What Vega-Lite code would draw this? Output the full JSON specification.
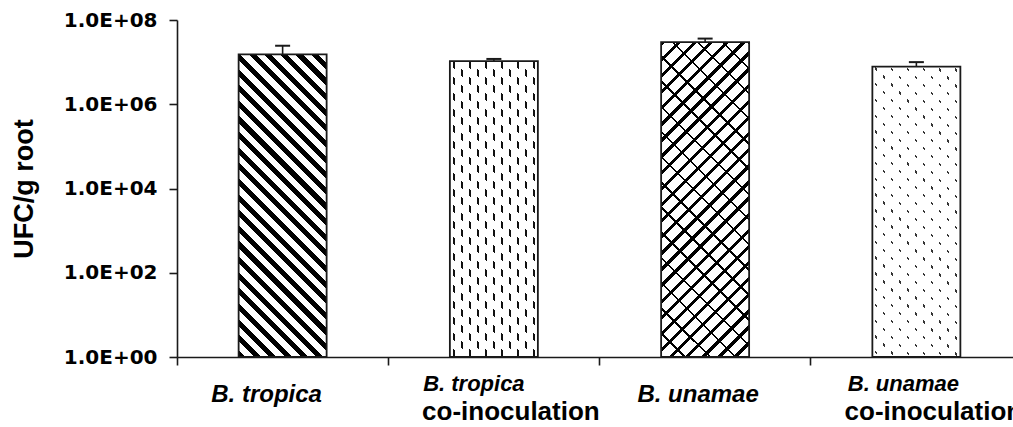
{
  "$schema": "https://vega.github.io/schema/vega-lite/v6.json",
  "width": 836,
  "height": 337,
  "autosize": "none",
  "padding": {"left": 177, "top": 20, "right": 0, "bottom": 70},
  "background": "white",
  "config": {"view": {"stroke": null}, "axis": {"grid": false}},
  "data": {"values": [
    {"cat": "B. tropica", "value": 15300000, "upper": 24500000},
    {"cat": "B. tropica co-inoculation", "value": 10600000, "upper": 11900000},
    {"cat": "B. unamae", "value": 30000000, "upper": 36200000},
    {"cat": "B. unamae co-inoculation", "value": 7800000, "upper": 10000000}
  ]},
  "encoding": {
    "x": {"field": "cat", "type": "nominal", "sort": null,
      "scale": {"domain": ["B. tropica", "B. tropica co-inoculation", "B. unamae", "B. unamae co-inoculation"], "paddingInner": 0, "paddingOuter": 0, "range": [0, 845]},
      "axis": null},
    "y": {"field": "value", "type": "quantitative", "scale": {"type": "log", "domain": [1, 100000000], "nice": false},
      "axis": {"orient": "left", "values": [1, 100, 10000, 1000000, 100000000],
        "labelExpr": "datum.value > 50000000 ? '1.0E+08' : datum.value > 500000 ? '1.0E+06' : datum.value > 5000 ? '1.0E+04' : datum.value > 50 ? '1.0E+02' : '1.0E+00'",
        "title": "UFC/g root", "titleFont": "Liberation Sans", "titleFontSize": 27, "titleFontWeight": "bold", "titleColor": "#000", "titlePadding": 25,
        "labelFont": "DejaVu Sans", "labelFontWeight": "bold", "labelFontSize": 20, "labelColor": "#000", "labelPadding": 12,
        "tickSize": 8, "tickColor": "#1a1a1a", "tickWidth": 1.6, "domainColor": "#1a1a1a", "domainWidth": 1.6, "grid": false}}
  },
  "layer": [
    {"transform": [{"filter": "datum.cat === 'B. tropica'"}],
     "mark": {"type": "bar", "width": 88, "fill": {"gradient": "linear", "x1": 0, "y1": 1, "x2": 0.346, "y2": -0.19, "stops": [
      {"offset": 0, "color": "#000"}, {"offset": 0.018, "color": "#000"}, {"offset": 0.018, "color": "#fff"}, {"offset": 0.04, "color": "#fff"},
      {"offset": 0.04, "color": "#000"}, {"offset": 0.058, "color": "#000"}, {"offset": 0.058, "color": "#fff"}, {"offset": 0.08, "color": "#fff"},
      {"offset": 0.08, "color": "#000"}, {"offset": 0.098, "color": "#000"}, {"offset": 0.098, "color": "#fff"}, {"offset": 0.12, "color": "#fff"},
      {"offset": 0.12, "color": "#000"}, {"offset": 0.138, "color": "#000"}, {"offset": 0.138, "color": "#fff"}, {"offset": 0.16, "color": "#fff"},
      {"offset": 0.16, "color": "#000"}, {"offset": 0.178, "color": "#000"}, {"offset": 0.178, "color": "#fff"}, {"offset": 0.2, "color": "#fff"},
      {"offset": 0.2, "color": "#000"}, {"offset": 0.218, "color": "#000"}, {"offset": 0.218, "color": "#fff"}, {"offset": 0.24, "color": "#fff"},
      {"offset": 0.24, "color": "#000"}, {"offset": 0.258, "color": "#000"}, {"offset": 0.258, "color": "#fff"}, {"offset": 0.28, "color": "#fff"},
      {"offset": 0.28, "color": "#000"}, {"offset": 0.298, "color": "#000"}, {"offset": 0.298, "color": "#fff"}, {"offset": 0.32, "color": "#fff"},
      {"offset": 0.32, "color": "#000"}, {"offset": 0.338, "color": "#000"}, {"offset": 0.338, "color": "#fff"}, {"offset": 0.36, "color": "#fff"},
      {"offset": 0.36, "color": "#000"}, {"offset": 0.378, "color": "#000"}, {"offset": 0.378, "color": "#fff"}, {"offset": 0.4, "color": "#fff"},
      {"offset": 0.4, "color": "#000"}, {"offset": 0.418, "color": "#000"}, {"offset": 0.418, "color": "#fff"}, {"offset": 0.44, "color": "#fff"},
      {"offset": 0.44, "color": "#000"}, {"offset": 0.458, "color": "#000"}, {"offset": 0.458, "color": "#fff"}, {"offset": 0.48, "color": "#fff"},
      {"offset": 0.48, "color": "#000"}, {"offset": 0.498, "color": "#000"}, {"offset": 0.498, "color": "#fff"}, {"offset": 0.52, "color": "#fff"},
      {"offset": 0.52, "color": "#000"}, {"offset": 0.538, "color": "#000"}, {"offset": 0.538, "color": "#fff"}, {"offset": 0.56, "color": "#fff"},
      {"offset": 0.56, "color": "#000"}, {"offset": 0.578, "color": "#000"}, {"offset": 0.578, "color": "#fff"}, {"offset": 0.6, "color": "#fff"},
      {"offset": 0.6, "color": "#000"}, {"offset": 0.618, "color": "#000"}, {"offset": 0.618, "color": "#fff"}, {"offset": 0.64, "color": "#fff"},
      {"offset": 0.64, "color": "#000"}, {"offset": 0.658, "color": "#000"}, {"offset": 0.658, "color": "#fff"}, {"offset": 0.68, "color": "#fff"},
      {"offset": 0.68, "color": "#000"}, {"offset": 0.698, "color": "#000"}, {"offset": 0.698, "color": "#fff"}, {"offset": 0.72, "color": "#fff"},
      {"offset": 0.72, "color": "#000"}, {"offset": 0.738, "color": "#000"}, {"offset": 0.738, "color": "#fff"}, {"offset": 0.76, "color": "#fff"},
      {"offset": 0.76, "color": "#000"}, {"offset": 0.778, "color": "#000"}, {"offset": 0.778, "color": "#fff"}, {"offset": 0.8, "color": "#fff"},
      {"offset": 0.8, "color": "#000"}, {"offset": 0.818, "color": "#000"}, {"offset": 0.818, "color": "#fff"}, {"offset": 0.84, "color": "#fff"},
      {"offset": 0.84, "color": "#000"}, {"offset": 0.858, "color": "#000"}, {"offset": 0.858, "color": "#fff"}, {"offset": 0.88, "color": "#fff"},
      {"offset": 0.88, "color": "#000"}, {"offset": 0.898, "color": "#000"}, {"offset": 0.898, "color": "#fff"}, {"offset": 0.92, "color": "#fff"},
      {"offset": 0.92, "color": "#000"}, {"offset": 0.938, "color": "#000"}, {"offset": 0.938, "color": "#fff"}, {"offset": 0.96, "color": "#fff"},
      {"offset": 0.96, "color": "#000"}, {"offset": 0.978, "color": "#000"}, {"offset": 0.978, "color": "#fff"}, {"offset": 1, "color": "#fff"}
     ]}},
     "encoding": {"y2": {"datum": 1},
       "x": {"field": "cat", "type": "nominal", "sort": null,
         "scale": {"domain": ["B. tropica", "B. tropica co-inoculation", "B. unamae", "B. unamae co-inoculation"], "paddingInner": 0, "paddingOuter": 0, "range": [0, 845]},
         "axis": {"orient": "bottom", "title": null, "domain": false, "ticks": false,
           "labelExpr": "datum.value === 'B. tropica' ? datum.label : ''",
           "labelFont": "Liberation Sans", "labelFontWeight": "bold", "labelFontStyle": "italic", "labelFontSize": 24, "labelColor": "#000",
           "labelBaseline": "alphabetic", "labelPadding": 44, "labelOffset": -16, "labelAngle": 0, "labelAlign": "center",
           "labelOverlap": false, "labelBound": false, "labelFlush": false, "labelLimit": 0}}}},

    {"transform": [{"filter": "datum.cat === 'B. tropica co-inoculation'"}],
     "mark": {"type": "bar", "width": 88, "fill": "#111"},
     "encoding": {"y2": {"datum": 1},
       "x": {"field": "cat", "type": "nominal", "sort": null,
         "scale": {"domain": ["B. tropica", "B. tropica co-inoculation", "B. unamae", "B. unamae co-inoculation"], "paddingInner": 0, "paddingOuter": 0, "range": [0, 845]},
         "axis": {"orient": "bottom", "title": null, "domain": false, "ticks": false,
           "labelExpr": "datum.value === 'B. tropica co-inoculation' ? 'B. tropica' : ''",
           "labelFont": "Liberation Sans", "labelFontWeight": "bold", "labelFontStyle": "italic", "labelFontSize": 22, "labelColor": "#000",
           "labelBaseline": "alphabetic", "labelPadding": 33, "labelOffset": -20, "labelAngle": 0, "labelAlign": "center",
           "labelOverlap": false, "labelBound": false, "labelFlush": false, "labelLimit": 0}}}},
    {"transform": [{"filter": "datum.cat === 'B. tropica co-inoculation'"}],
     "mark": {"type": "bar", "width": 88, "fill": {"gradient": "linear", "x1": 0, "y1": 0, "x2": 1, "y2": 0, "stops": [
      {"offset": 0, "color": "#fff"},
      {"offset": 0.0318, "color": "#fff"}, {"offset": 0.0318, "color": "rgba(255,255,255,0)"}, {"offset": 0.0591, "color": "rgba(255,255,255,0)"}, {"offset": 0.0591, "color": "#fff"},
      {"offset": 0.1227, "color": "#fff"}, {"offset": 0.1227, "color": "rgba(255,255,255,0)"}, {"offset": 0.15, "color": "rgba(255,255,255,0)"}, {"offset": 0.15, "color": "#fff"},
      {"offset": 0.2136, "color": "#fff"}, {"offset": 0.2136, "color": "rgba(255,255,255,0)"}, {"offset": 0.2409, "color": "rgba(255,255,255,0)"}, {"offset": 0.2409, "color": "#fff"},
      {"offset": 0.3045, "color": "#fff"}, {"offset": 0.3045, "color": "rgba(255,255,255,0)"}, {"offset": 0.3318, "color": "rgba(255,255,255,0)"}, {"offset": 0.3318, "color": "#fff"},
      {"offset": 0.3955, "color": "#fff"}, {"offset": 0.3955, "color": "rgba(255,255,255,0)"}, {"offset": 0.4227, "color": "rgba(255,255,255,0)"}, {"offset": 0.4227, "color": "#fff"},
      {"offset": 0.4864, "color": "#fff"}, {"offset": 0.4864, "color": "rgba(255,255,255,0)"}, {"offset": 0.5136, "color": "rgba(255,255,255,0)"}, {"offset": 0.5136, "color": "#fff"},
      {"offset": 0.5773, "color": "#fff"}, {"offset": 0.5773, "color": "rgba(255,255,255,0)"}, {"offset": 0.6045, "color": "rgba(255,255,255,0)"}, {"offset": 0.6045, "color": "#fff"},
      {"offset": 0.6682, "color": "#fff"}, {"offset": 0.6682, "color": "rgba(255,255,255,0)"}, {"offset": 0.6955, "color": "rgba(255,255,255,0)"}, {"offset": 0.6955, "color": "#fff"},
      {"offset": 0.7591, "color": "#fff"}, {"offset": 0.7591, "color": "rgba(255,255,255,0)"}, {"offset": 0.7864, "color": "rgba(255,255,255,0)"}, {"offset": 0.7864, "color": "#fff"},
      {"offset": 0.85, "color": "#fff"}, {"offset": 0.85, "color": "rgba(255,255,255,0)"}, {"offset": 0.8773, "color": "rgba(255,255,255,0)"}, {"offset": 0.8773, "color": "#fff"},
      {"offset": 0.9409, "color": "#fff"}, {"offset": 0.9409, "color": "rgba(255,255,255,0)"}, {"offset": 0.9682, "color": "rgba(255,255,255,0)"}, {"offset": 0.9682, "color": "#fff"},
      {"offset": 1, "color": "#fff"}
     ]}},
     "encoding": {"y2": {"datum": 1}}},
    {"transform": [{"filter": "datum.cat === 'B. tropica co-inoculation'"}],
     "mark": {"type": "bar", "width": 88, "fill": {"gradient": "linear", "x1": 0, "y1": 1, "x2": 0.3545, "y2": -0.192, "stops": [
      {"offset": 0, "color": "#fff"},
      {"offset": 0.0125, "color": "#fff"}, {"offset": 0.0125, "color": "rgba(255,255,255,0)"}, {"offset": 0.0292, "color": "rgba(255,255,255,0)"}, {"offset": 0.0292, "color": "#fff"},
      {"offset": 0.0542, "color": "#fff"}, {"offset": 0.0542, "color": "rgba(255,255,255,0)"}, {"offset": 0.0708, "color": "rgba(255,255,255,0)"}, {"offset": 0.0708, "color": "#fff"},
      {"offset": 0.0958, "color": "#fff"}, {"offset": 0.0958, "color": "rgba(255,255,255,0)"}, {"offset": 0.1125, "color": "rgba(255,255,255,0)"}, {"offset": 0.1125, "color": "#fff"},
      {"offset": 0.1375, "color": "#fff"}, {"offset": 0.1375, "color": "rgba(255,255,255,0)"}, {"offset": 0.1542, "color": "rgba(255,255,255,0)"}, {"offset": 0.1542, "color": "#fff"},
      {"offset": 0.1792, "color": "#fff"}, {"offset": 0.1792, "color": "rgba(255,255,255,0)"}, {"offset": 0.1958, "color": "rgba(255,255,255,0)"}, {"offset": 0.1958, "color": "#fff"},
      {"offset": 0.2208, "color": "#fff"}, {"offset": 0.2208, "color": "rgba(255,255,255,0)"}, {"offset": 0.2375, "color": "rgba(255,255,255,0)"}, {"offset": 0.2375, "color": "#fff"},
      {"offset": 0.2625, "color": "#fff"}, {"offset": 0.2625, "color": "rgba(255,255,255,0)"}, {"offset": 0.2792, "color": "rgba(255,255,255,0)"}, {"offset": 0.2792, "color": "#fff"},
      {"offset": 0.3042, "color": "#fff"}, {"offset": 0.3042, "color": "rgba(255,255,255,0)"}, {"offset": 0.3208, "color": "rgba(255,255,255,0)"}, {"offset": 0.3208, "color": "#fff"},
      {"offset": 0.3458, "color": "#fff"}, {"offset": 0.3458, "color": "rgba(255,255,255,0)"}, {"offset": 0.3625, "color": "rgba(255,255,255,0)"}, {"offset": 0.3625, "color": "#fff"},
      {"offset": 0.3875, "color": "#fff"}, {"offset": 0.3875, "color": "rgba(255,255,255,0)"}, {"offset": 0.4042, "color": "rgba(255,255,255,0)"}, {"offset": 0.4042, "color": "#fff"},
      {"offset": 0.4292, "color": "#fff"}, {"offset": 0.4292, "color": "rgba(255,255,255,0)"}, {"offset": 0.4458, "color": "rgba(255,255,255,0)"}, {"offset": 0.4458, "color": "#fff"},
      {"offset": 0.4708, "color": "#fff"}, {"offset": 0.4708, "color": "rgba(255,255,255,0)"}, {"offset": 0.4875, "color": "rgba(255,255,255,0)"}, {"offset": 0.4875, "color": "#fff"},
      {"offset": 0.5125, "color": "#fff"}, {"offset": 0.5125, "color": "rgba(255,255,255,0)"}, {"offset": 0.5292, "color": "rgba(255,255,255,0)"}, {"offset": 0.5292, "color": "#fff"},
      {"offset": 0.5542, "color": "#fff"}, {"offset": 0.5542, "color": "rgba(255,255,255,0)"}, {"offset": 0.5708, "color": "rgba(255,255,255,0)"}, {"offset": 0.5708, "color": "#fff"},
      {"offset": 0.5958, "color": "#fff"}, {"offset": 0.5958, "color": "rgba(255,255,255,0)"}, {"offset": 0.6125, "color": "rgba(255,255,255,0)"}, {"offset": 0.6125, "color": "#fff"},
      {"offset": 0.6375, "color": "#fff"}, {"offset": 0.6375, "color": "rgba(255,255,255,0)"}, {"offset": 0.6542, "color": "rgba(255,255,255,0)"}, {"offset": 0.6542, "color": "#fff"},
      {"offset": 0.6792, "color": "#fff"}, {"offset": 0.6792, "color": "rgba(255,255,255,0)"}, {"offset": 0.6958, "color": "rgba(255,255,255,0)"}, {"offset": 0.6958, "color": "#fff"},
      {"offset": 0.7208, "color": "#fff"}, {"offset": 0.7208, "color": "rgba(255,255,255,0)"}, {"offset": 0.7375, "color": "rgba(255,255,255,0)"}, {"offset": 0.7375, "color": "#fff"},
      {"offset": 0.7625, "color": "#fff"}, {"offset": 0.7625, "color": "rgba(255,255,255,0)"}, {"offset": 0.7792, "color": "rgba(255,255,255,0)"}, {"offset": 0.7792, "color": "#fff"},
      {"offset": 0.8042, "color": "#fff"}, {"offset": 0.8042, "color": "rgba(255,255,255,0)"}, {"offset": 0.8208, "color": "rgba(255,255,255,0)"}, {"offset": 0.8208, "color": "#fff"},
      {"offset": 0.8458, "color": "#fff"}, {"offset": 0.8458, "color": "rgba(255,255,255,0)"}, {"offset": 0.8625, "color": "rgba(255,255,255,0)"}, {"offset": 0.8625, "color": "#fff"},
      {"offset": 0.8875, "color": "#fff"}, {"offset": 0.8875, "color": "rgba(255,255,255,0)"}, {"offset": 0.9042, "color": "rgba(255,255,255,0)"}, {"offset": 0.9042, "color": "#fff"},
      {"offset": 0.9292, "color": "#fff"}, {"offset": 0.9292, "color": "rgba(255,255,255,0)"}, {"offset": 0.9458, "color": "rgba(255,255,255,0)"}, {"offset": 0.9458, "color": "#fff"},
      {"offset": 0.9708, "color": "#fff"}, {"offset": 0.9708, "color": "rgba(255,255,255,0)"}, {"offset": 0.9875, "color": "rgba(255,255,255,0)"}, {"offset": 0.9875, "color": "#fff"},
      {"offset": 1, "color": "#fff"}
     ]}},
     "encoding": {"y2": {"datum": 1}}},

    {"transform": [{"filter": "datum.cat === 'B. unamae'"}],
     "mark": {"type": "bar", "width": 88, "fill": {"gradient": "linear", "x1": 0, "y1": 0, "x2": 0.3315, "y2": 1.1867, "stops": [
      {"offset": 0, "color": "#000"}, {"offset": 0.0108, "color": "#000"}, {"offset": 0.0108, "color": "#fff"}, {"offset": 0.04, "color": "#fff"},
      {"offset": 0.04, "color": "#000"}, {"offset": 0.0508, "color": "#000"}, {"offset": 0.0508, "color": "#fff"}, {"offset": 0.08, "color": "#fff"},
      {"offset": 0.08, "color": "#000"}, {"offset": 0.0908, "color": "#000"}, {"offset": 0.0908, "color": "#fff"}, {"offset": 0.12, "color": "#fff"},
      {"offset": 0.12, "color": "#000"}, {"offset": 0.1308, "color": "#000"}, {"offset": 0.1308, "color": "#fff"}, {"offset": 0.16, "color": "#fff"},
      {"offset": 0.16, "color": "#000"}, {"offset": 0.1708, "color": "#000"}, {"offset": 0.1708, "color": "#fff"}, {"offset": 0.2, "color": "#fff"},
      {"offset": 0.2, "color": "#000"}, {"offset": 0.2108, "color": "#000"}, {"offset": 0.2108, "color": "#fff"}, {"offset": 0.24, "color": "#fff"},
      {"offset": 0.24, "color": "#000"}, {"offset": 0.2508, "color": "#000"}, {"offset": 0.2508, "color": "#fff"}, {"offset": 0.28, "color": "#fff"},
      {"offset": 0.28, "color": "#000"}, {"offset": 0.2908, "color": "#000"}, {"offset": 0.2908, "color": "#fff"}, {"offset": 0.32, "color": "#fff"},
      {"offset": 0.32, "color": "#000"}, {"offset": 0.3308, "color": "#000"}, {"offset": 0.3308, "color": "#fff"}, {"offset": 0.36, "color": "#fff"},
      {"offset": 0.36, "color": "#000"}, {"offset": 0.3708, "color": "#000"}, {"offset": 0.3708, "color": "#fff"}, {"offset": 0.4, "color": "#fff"},
      {"offset": 0.4, "color": "#000"}, {"offset": 0.4108, "color": "#000"}, {"offset": 0.4108, "color": "#fff"}, {"offset": 0.44, "color": "#fff"},
      {"offset": 0.44, "color": "#000"}, {"offset": 0.4508, "color": "#000"}, {"offset": 0.4508, "color": "#fff"}, {"offset": 0.48, "color": "#fff"},
      {"offset": 0.48, "color": "#000"}, {"offset": 0.4908, "color": "#000"}, {"offset": 0.4908, "color": "#fff"}, {"offset": 0.52, "color": "#fff"},
      {"offset": 0.52, "color": "#000"}, {"offset": 0.5308, "color": "#000"}, {"offset": 0.5308, "color": "#fff"}, {"offset": 0.56, "color": "#fff"},
      {"offset": 0.56, "color": "#000"}, {"offset": 0.5708, "color": "#000"}, {"offset": 0.5708, "color": "#fff"}, {"offset": 0.6, "color": "#fff"},
      {"offset": 0.6, "color": "#000"}, {"offset": 0.6108, "color": "#000"}, {"offset": 0.6108, "color": "#fff"}, {"offset": 0.64, "color": "#fff"},
      {"offset": 0.64, "color": "#000"}, {"offset": 0.6508, "color": "#000"}, {"offset": 0.6508, "color": "#fff"}, {"offset": 0.68, "color": "#fff"},
      {"offset": 0.68, "color": "#000"}, {"offset": 0.6908, "color": "#000"}, {"offset": 0.6908, "color": "#fff"}, {"offset": 0.72, "color": "#fff"},
      {"offset": 0.72, "color": "#000"}, {"offset": 0.7308, "color": "#000"}, {"offset": 0.7308, "color": "#fff"}, {"offset": 0.76, "color": "#fff"},
      {"offset": 0.76, "color": "#000"}, {"offset": 0.7708, "color": "#000"}, {"offset": 0.7708, "color": "#fff"}, {"offset": 0.8, "color": "#fff"},
      {"offset": 0.8, "color": "#000"}, {"offset": 0.8108, "color": "#000"}, {"offset": 0.8108, "color": "#fff"}, {"offset": 0.84, "color": "#fff"},
      {"offset": 0.84, "color": "#000"}, {"offset": 0.8508, "color": "#000"}, {"offset": 0.8508, "color": "#fff"}, {"offset": 0.88, "color": "#fff"},
      {"offset": 0.88, "color": "#000"}, {"offset": 0.8908, "color": "#000"}, {"offset": 0.8908, "color": "#fff"}, {"offset": 0.92, "color": "#fff"},
      {"offset": 0.92, "color": "#000"}, {"offset": 0.9308, "color": "#000"}, {"offset": 0.9308, "color": "#fff"}, {"offset": 0.96, "color": "#fff"},
      {"offset": 0.96, "color": "#000"}, {"offset": 0.9708, "color": "#000"}, {"offset": 0.9708, "color": "#fff"}, {"offset": 1, "color": "#fff"}
     ]}},
     "encoding": {"y2": {"datum": 1},
       "x": {"field": "cat", "type": "nominal", "sort": null,
         "scale": {"domain": ["B. tropica", "B. tropica co-inoculation", "B. unamae", "B. unamae co-inoculation"], "paddingInner": 0, "paddingOuter": 0, "range": [0, 845]},
         "axis": {"orient": "bottom", "title": null, "domain": false, "ticks": false,
           "labelExpr": "datum.value === 'B. unamae' ? datum.label : ''",
           "labelFont": "Liberation Sans", "labelFontWeight": "bold", "labelFontStyle": "italic", "labelFontSize": 24, "labelColor": "#000",
           "labelBaseline": "alphabetic", "labelPadding": 44, "labelOffset": -7, "labelAngle": 0, "labelAlign": "center",
           "labelOverlap": false, "labelBound": false, "labelFlush": false, "labelLimit": 0}}}},
    {"transform": [{"filter": "datum.cat === 'B. unamae'"}],
     "mark": {"type": "bar", "width": 88, "fill": {"gradient": "linear", "x1": 0, "y1": 1, "x2": 0.3315, "y2": -0.1867, "stops": [
      {"offset": 0, "color": "rgba(0,0,0,0)"}, {"offset": 0.0563, "color": "rgba(0,0,0,0)"}, {"offset": 0.0563, "color": "#000"}, {"offset": 0.0625, "color": "#000"},
      {"offset": 0.0625, "color": "rgba(0,0,0,0)"}, {"offset": 0.1188, "color": "rgba(0,0,0,0)"}, {"offset": 0.1188, "color": "#000"}, {"offset": 0.125, "color": "#000"},
      {"offset": 0.125, "color": "rgba(0,0,0,0)"}, {"offset": 0.1813, "color": "rgba(0,0,0,0)"}, {"offset": 0.1813, "color": "#000"}, {"offset": 0.1875, "color": "#000"},
      {"offset": 0.1875, "color": "rgba(0,0,0,0)"}, {"offset": 0.2438, "color": "rgba(0,0,0,0)"}, {"offset": 0.2438, "color": "#000"}, {"offset": 0.25, "color": "#000"},
      {"offset": 0.25, "color": "rgba(0,0,0,0)"}, {"offset": 0.3063, "color": "rgba(0,0,0,0)"}, {"offset": 0.3063, "color": "#000"}, {"offset": 0.3125, "color": "#000"},
      {"offset": 0.3125, "color": "rgba(0,0,0,0)"}, {"offset": 0.3688, "color": "rgba(0,0,0,0)"}, {"offset": 0.3688, "color": "#000"}, {"offset": 0.375, "color": "#000"},
      {"offset": 0.375, "color": "rgba(0,0,0,0)"}, {"offset": 0.4313, "color": "rgba(0,0,0,0)"}, {"offset": 0.4313, "color": "#000"}, {"offset": 0.4375, "color": "#000"},
      {"offset": 0.4375, "color": "rgba(0,0,0,0)"}, {"offset": 0.4938, "color": "rgba(0,0,0,0)"}, {"offset": 0.4938, "color": "#000"}, {"offset": 0.5, "color": "#000"},
      {"offset": 0.5, "color": "rgba(0,0,0,0)"}, {"offset": 0.5563, "color": "rgba(0,0,0,0)"}, {"offset": 0.5563, "color": "#000"}, {"offset": 0.5625, "color": "#000"},
      {"offset": 0.5625, "color": "rgba(0,0,0,0)"}, {"offset": 0.6188, "color": "rgba(0,0,0,0)"}, {"offset": 0.6188, "color": "#000"}, {"offset": 0.625, "color": "#000"},
      {"offset": 0.625, "color": "rgba(0,0,0,0)"}, {"offset": 0.6813, "color": "rgba(0,0,0,0)"}, {"offset": 0.6813, "color": "#000"}, {"offset": 0.6875, "color": "#000"},
      {"offset": 0.6875, "color": "rgba(0,0,0,0)"}, {"offset": 0.7438, "color": "rgba(0,0,0,0)"}, {"offset": 0.7438, "color": "#000"}, {"offset": 0.75, "color": "#000"},
      {"offset": 0.75, "color": "rgba(0,0,0,0)"}, {"offset": 0.8063, "color": "rgba(0,0,0,0)"}, {"offset": 0.8063, "color": "#000"}, {"offset": 0.8125, "color": "#000"},
      {"offset": 0.8125, "color": "rgba(0,0,0,0)"}, {"offset": 0.8688, "color": "rgba(0,0,0,0)"}, {"offset": 0.8688, "color": "#000"}, {"offset": 0.875, "color": "#000"},
      {"offset": 0.875, "color": "rgba(0,0,0,0)"}, {"offset": 0.9313, "color": "rgba(0,0,0,0)"}, {"offset": 0.9313, "color": "#000"}, {"offset": 0.9375, "color": "#000"},
      {"offset": 0.9375, "color": "rgba(0,0,0,0)"}, {"offset": 0.9938, "color": "rgba(0,0,0,0)"}, {"offset": 0.9938, "color": "#000"}, {"offset": 1, "color": "#000"}
     ]}},
     "encoding": {"y2": {"datum": 1}}},

    {"transform": [{"filter": "datum.cat === 'B. unamae co-inoculation'"}],
     "mark": {"type": "bar", "width": 88, "fill": "#333"},
     "encoding": {"y2": {"datum": 1},
       "x": {"field": "cat", "type": "nominal", "sort": null,
         "scale": {"domain": ["B. tropica", "B. tropica co-inoculation", "B. unamae", "B. unamae co-inoculation"], "paddingInner": 0, "paddingOuter": 0, "range": [0, 845]},
         "axis": {"orient": "bottom", "title": null, "domain": false, "ticks": false,
           "labelExpr": "datum.value === 'B. unamae co-inoculation' ? 'B. unamae' : ''",
           "labelFont": "Liberation Sans", "labelFontWeight": "bold", "labelFontStyle": "italic", "labelFontSize": 22, "labelColor": "#000",
           "labelBaseline": "alphabetic", "labelPadding": 33, "labelOffset": -13, "labelAngle": 0, "labelAlign": "center",
           "labelOverlap": false, "labelBound": false, "labelFlush": false, "labelLimit": 0}}}},
    {"transform": [{"filter": "datum.cat === 'B. unamae co-inoculation'"}],
     "mark": {"type": "bar", "width": 88, "fill": {"gradient": "linear", "x1": 0, "y1": 0, "x2": 1, "y2": 0, "stops": [
      {"offset": 0, "color": "#fff"},
      {"offset": 0.0341, "color": "#fff"}, {"offset": 0.0341, "color": "rgba(255,255,255,0)"}, {"offset": 0.0568, "color": "rgba(255,255,255,0)"}, {"offset": 0.0568, "color": "#fff"},
      {"offset": 0.125, "color": "#fff"}, {"offset": 0.125, "color": "rgba(255,255,255,0)"}, {"offset": 0.1477, "color": "rgba(255,255,255,0)"}, {"offset": 0.1477, "color": "#fff"},
      {"offset": 0.2159, "color": "#fff"}, {"offset": 0.2159, "color": "rgba(255,255,255,0)"}, {"offset": 0.2386, "color": "rgba(255,255,255,0)"}, {"offset": 0.2386, "color": "#fff"},
      {"offset": 0.3068, "color": "#fff"}, {"offset": 0.3068, "color": "rgba(255,255,255,0)"}, {"offset": 0.3295, "color": "rgba(255,255,255,0)"}, {"offset": 0.3295, "color": "#fff"},
      {"offset": 0.3977, "color": "#fff"}, {"offset": 0.3977, "color": "rgba(255,255,255,0)"}, {"offset": 0.4205, "color": "rgba(255,255,255,0)"}, {"offset": 0.4205, "color": "#fff"},
      {"offset": 0.4886, "color": "#fff"}, {"offset": 0.4886, "color": "rgba(255,255,255,0)"}, {"offset": 0.5114, "color": "rgba(255,255,255,0)"}, {"offset": 0.5114, "color": "#fff"},
      {"offset": 0.5795, "color": "#fff"}, {"offset": 0.5795, "color": "rgba(255,255,255,0)"}, {"offset": 0.6023, "color": "rgba(255,255,255,0)"}, {"offset": 0.6023, "color": "#fff"},
      {"offset": 0.6705, "color": "#fff"}, {"offset": 0.6705, "color": "rgba(255,255,255,0)"}, {"offset": 0.6932, "color": "rgba(255,255,255,0)"}, {"offset": 0.6932, "color": "#fff"},
      {"offset": 0.7614, "color": "#fff"}, {"offset": 0.7614, "color": "rgba(255,255,255,0)"}, {"offset": 0.7841, "color": "rgba(255,255,255,0)"}, {"offset": 0.7841, "color": "#fff"},
      {"offset": 0.8523, "color": "#fff"}, {"offset": 0.8523, "color": "rgba(255,255,255,0)"}, {"offset": 0.875, "color": "rgba(255,255,255,0)"}, {"offset": 0.875, "color": "#fff"},
      {"offset": 0.9432, "color": "#fff"}, {"offset": 0.9432, "color": "rgba(255,255,255,0)"}, {"offset": 0.9659, "color": "rgba(255,255,255,0)"}, {"offset": 0.9659, "color": "#fff"},
      {"offset": 1, "color": "#fff"}
     ]}},
     "encoding": {"y2": {"datum": 1}}},
    {"transform": [{"filter": "datum.cat === 'B. unamae co-inoculation'"}],
     "mark": {"type": "bar", "width": 88, "fill": {"gradient": "linear", "x1": 0, "y1": 1, "x2": 0.3618, "y2": -0.1935, "stops": [
      {"offset": 0, "color": "#fff"},
      {"offset": 0.0177, "color": "#fff"}, {"offset": 0.0177, "color": "rgba(255,255,255,0)"}, {"offset": 0.024, "color": "rgba(255,255,255,0)"}, {"offset": 0.024, "color": "#fff"},
      {"offset": 0.0594, "color": "#fff"}, {"offset": 0.0594, "color": "rgba(255,255,255,0)"}, {"offset": 0.0656, "color": "rgba(255,255,255,0)"}, {"offset": 0.0656, "color": "#fff"},
      {"offset": 0.101, "color": "#fff"}, {"offset": 0.101, "color": "rgba(255,255,255,0)"}, {"offset": 0.1073, "color": "rgba(255,255,255,0)"}, {"offset": 0.1073, "color": "#fff"},
      {"offset": 0.1427, "color": "#fff"}, {"offset": 0.1427, "color": "rgba(255,255,255,0)"}, {"offset": 0.149, "color": "rgba(255,255,255,0)"}, {"offset": 0.149, "color": "#fff"},
      {"offset": 0.1844, "color": "#fff"}, {"offset": 0.1844, "color": "rgba(255,255,255,0)"}, {"offset": 0.1906, "color": "rgba(255,255,255,0)"}, {"offset": 0.1906, "color": "#fff"},
      {"offset": 0.226, "color": "#fff"}, {"offset": 0.226, "color": "rgba(255,255,255,0)"}, {"offset": 0.2323, "color": "rgba(255,255,255,0)"}, {"offset": 0.2323, "color": "#fff"},
      {"offset": 0.2677, "color": "#fff"}, {"offset": 0.2677, "color": "rgba(255,255,255,0)"}, {"offset": 0.274, "color": "rgba(255,255,255,0)"}, {"offset": 0.274, "color": "#fff"},
      {"offset": 0.3094, "color": "#fff"}, {"offset": 0.3094, "color": "rgba(255,255,255,0)"}, {"offset": 0.3156, "color": "rgba(255,255,255,0)"}, {"offset": 0.3156, "color": "#fff"},
      {"offset": 0.351, "color": "#fff"}, {"offset": 0.351, "color": "rgba(255,255,255,0)"}, {"offset": 0.3573, "color": "rgba(255,255,255,0)"}, {"offset": 0.3573, "color": "#fff"},
      {"offset": 0.3927, "color": "#fff"}, {"offset": 0.3927, "color": "rgba(255,255,255,0)"}, {"offset": 0.399, "color": "rgba(255,255,255,0)"}, {"offset": 0.399, "color": "#fff"},
      {"offset": 0.4344, "color": "#fff"}, {"offset": 0.4344, "color": "rgba(255,255,255,0)"}, {"offset": 0.4406, "color": "rgba(255,255,255,0)"}, {"offset": 0.4406, "color": "#fff"},
      {"offset": 0.476, "color": "#fff"}, {"offset": 0.476, "color": "rgba(255,255,255,0)"}, {"offset": 0.4823, "color": "rgba(255,255,255,0)"}, {"offset": 0.4823, "color": "#fff"},
      {"offset": 0.5177, "color": "#fff"}, {"offset": 0.5177, "color": "rgba(255,255,255,0)"}, {"offset": 0.524, "color": "rgba(255,255,255,0)"}, {"offset": 0.524, "color": "#fff"},
      {"offset": 0.5594, "color": "#fff"}, {"offset": 0.5594, "color": "rgba(255,255,255,0)"}, {"offset": 0.5656, "color": "rgba(255,255,255,0)"}, {"offset": 0.5656, "color": "#fff"},
      {"offset": 0.601, "color": "#fff"}, {"offset": 0.601, "color": "rgba(255,255,255,0)"}, {"offset": 0.6073, "color": "rgba(255,255,255,0)"}, {"offset": 0.6073, "color": "#fff"},
      {"offset": 0.6427, "color": "#fff"}, {"offset": 0.6427, "color": "rgba(255,255,255,0)"}, {"offset": 0.649, "color": "rgba(255,255,255,0)"}, {"offset": 0.649, "color": "#fff"},
      {"offset": 0.6844, "color": "#fff"}, {"offset": 0.6844, "color": "rgba(255,255,255,0)"}, {"offset": 0.6906, "color": "rgba(255,255,255,0)"}, {"offset": 0.6906, "color": "#fff"},
      {"offset": 0.726, "color": "#fff"}, {"offset": 0.726, "color": "rgba(255,255,255,0)"}, {"offset": 0.7323, "color": "rgba(255,255,255,0)"}, {"offset": 0.7323, "color": "#fff"},
      {"offset": 0.7677, "color": "#fff"}, {"offset": 0.7677, "color": "rgba(255,255,255,0)"}, {"offset": 0.774, "color": "rgba(255,255,255,0)"}, {"offset": 0.774, "color": "#fff"},
      {"offset": 0.8094, "color": "#fff"}, {"offset": 0.8094, "color": "rgba(255,255,255,0)"}, {"offset": 0.8156, "color": "rgba(255,255,255,0)"}, {"offset": 0.8156, "color": "#fff"},
      {"offset": 0.851, "color": "#fff"}, {"offset": 0.851, "color": "rgba(255,255,255,0)"}, {"offset": 0.8573, "color": "rgba(255,255,255,0)"}, {"offset": 0.8573, "color": "#fff"},
      {"offset": 0.8927, "color": "#fff"}, {"offset": 0.8927, "color": "rgba(255,255,255,0)"}, {"offset": 0.899, "color": "rgba(255,255,255,0)"}, {"offset": 0.899, "color": "#fff"},
      {"offset": 0.9344, "color": "#fff"}, {"offset": 0.9344, "color": "rgba(255,255,255,0)"}, {"offset": 0.9406, "color": "rgba(255,255,255,0)"}, {"offset": 0.9406, "color": "#fff"},
      {"offset": 0.976, "color": "#fff"}, {"offset": 0.976, "color": "rgba(255,255,255,0)"}, {"offset": 0.9823, "color": "rgba(255,255,255,0)"}, {"offset": 0.9823, "color": "#fff"},
      {"offset": 1, "color": "#fff"}
     ]}},
     "encoding": {"y2": {"datum": 1}}},

    {"mark": {"type": "bar", "width": 88, "fill": "transparent", "stroke": "#1a1a1a", "strokeWidth": 1.8},
     "encoding": {
       "y2": {"datum": 1},
       "x": {"field": "cat", "type": "nominal", "sort": null,
         "scale": {"domain": ["B. tropica", "B. tropica co-inoculation", "B. unamae", "B. unamae co-inoculation"], "paddingInner": 0, "paddingOuter": 0, "range": [0, 845]},
         "axis": {"orient": "bottom", "title": null, "labels": false, "domain": true, "ticks": true, "bandPosition": 0,
           "domainColor": "#1a1a1a", "domainWidth": 1.6, "tickColor": "#1a1a1a", "tickWidth": 1.6, "tickSize": 8}}
     }},

    {"mark": {"type": "rule", "color": "#1a1a1a", "strokeWidth": 1.6},
     "encoding": {"y2": {"field": "upper"}}},

    {"mark": {"type": "tick", "size": 15, "thickness": 2, "color": "#1a1a1a", "opacity": 1},
     "encoding": {
       "y": {"field": "upper", "type": "quantitative",
         "axis": {"orient": "left", "values": [1, 100, 10000, 1000000, 100000000],
           "labelExpr": "datum.value > 50000000 ? '1.0E+08' : datum.value > 500000 ? '1.0E+06' : datum.value > 5000 ? '1.0E+04' : datum.value > 50 ? '1.0E+02' : '1.0E+00'",
           "title": "UFC/g root", "titleFont": "Liberation Sans", "titleFontSize": 27, "titleFontWeight": "bold", "titleColor": "#000", "titlePadding": 25,
           "labelFont": "DejaVu Sans", "labelFontWeight": "bold", "labelFontSize": 20, "labelColor": "#000", "labelPadding": 12,
           "tickSize": 8, "tickColor": "#1a1a1a", "tickWidth": 1.6, "domainColor": "#1a1a1a", "domainWidth": 1.6, "grid": false}},
       "x": {"field": "cat", "type": "nominal", "sort": null,
         "scale": {"domain": ["B. tropica", "B. tropica co-inoculation", "B. unamae", "B. unamae co-inoculation"], "paddingInner": 0, "paddingOuter": 0, "range": [0, 845]},
         "axis": {"orient": "bottom", "title": null, "domain": false, "ticks": false,
           "labelExpr": "indexof(datum.label, 'co-inoculation') >= 0 ? 'co-inoculation' : ''",
           "labelFont": "Liberation Sans", "labelFontWeight": "bold", "labelFontSize": 26, "labelColor": "#000",
           "labelBaseline": "alphabetic", "labelPadding": 62, "labelOffset": 17, "labelAngle": 0, "labelAlign": "center",
           "labelOverlap": false, "labelBound": false, "labelFlush": false, "labelLimit": 0}}
     }}
  ],
  "resolve": {"axis": {"x": "independent", "y": "shared"}}
}
